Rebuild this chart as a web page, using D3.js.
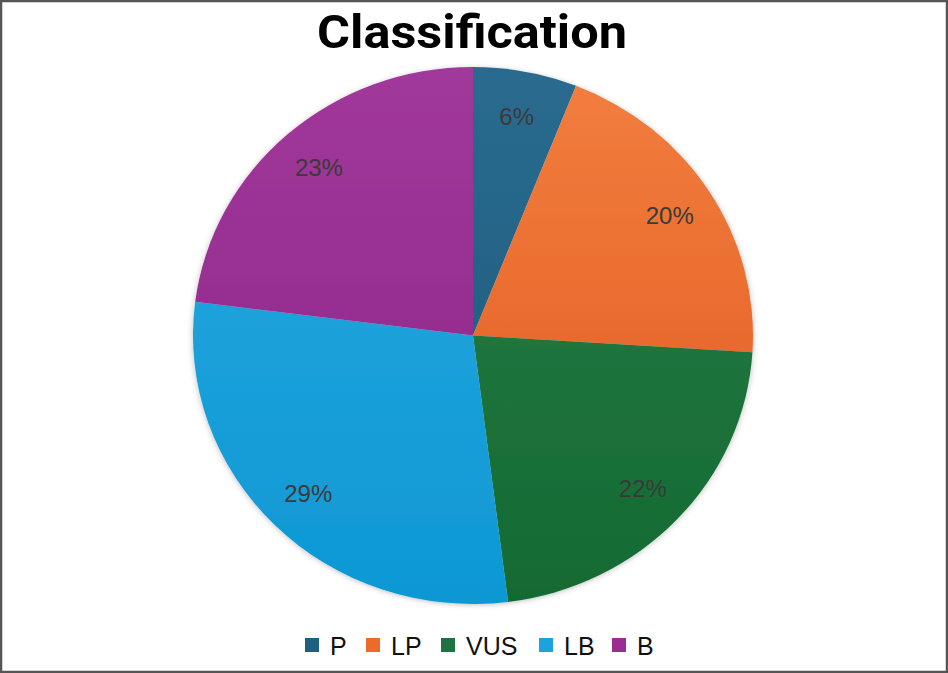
<!DOCTYPE html>
<html><head><meta charset="utf-8">
<script src="https://cdn.jsdelivr.net/npm/d3@7"></script>
<style>body{margin:0;background:#fff}svg{display:block}</style>
</head><body>
<script>
const categories = ["P", "LP", "VUS", "LB", "B"];
const values = [6, 20, 22, 29, 23];
const colorsTop = ["#2a6b90", "#f27e3e", "#2f7e47", "#2aa9e1", "#a1389b"];
const colorsBottom = ["#1b5878", "#e0581f", "#116a32", "#0d98d4", "#8a2385"];
const legendColors = ["#1f5f82", "#ec6b2b", "#1d7440", "#1ca2dc", "#9a2c92"];
const title = "Classification";

const W = 948, H = 673;
const svg = d3.select("body").append("svg").attr("width", W).attr("height", H);
svg.append("rect").attr("x", 1).attr("y", 1).attr("width", W - 2).attr("height", H - 2)
  .attr("fill", "#fff").attr("stroke", "#555").attr("stroke-width", 2.5);

const cx = 473, cy = 335.5, R = 280, ky = 268.5 / 280;
const defs = svg.append("defs");
categories.forEach((c, i) => {
  const g = defs.append("linearGradient").attr("id", "g" + i)
    .attr("gradientUnits", "userSpaceOnUse")
    .attr("x1", 0).attr("y1", -R).attr("x2", 0).attr("y2", R);
  g.append("stop").attr("offset", "0%").attr("stop-color", colorsTop[i]);
  g.append("stop").attr("offset", "100%").attr("stop-color", colorsBottom[i]);
});
const f = defs.append("filter").attr("id", "sh").attr("x", "-10%").attr("y", "-10%").attr("width", "120%").attr("height", "120%");
f.append("feDropShadow").attr("dx", 0).attr("dy", 1).attr("stdDeviation", 3).attr("flood-color", "#000").attr("flood-opacity", 0.25);

svg.append("text").attr("x", 472).attr("y", 48).attr("text-anchor", "middle")
  .attr("font-family", "Roboto, 'Open Sans', sans-serif").attr("font-weight", 700)
  .attr("font-size", 46).attr("fill", "#000")
  .attr("textLength", 310).attr("lengthAdjust", "spacingAndGlyphs").text(title);

const pie = d3.pie().sort(null).value(d => d);
const arcs = pie(values);
const arc = d3.arc().innerRadius(0).outerRadius(R);
const lab = d3.arc().innerRadius(233).outerRadius(233);
const total = d3.sum(values);

const gp = svg.append("g").attr("transform", `translate(${cx},${cy})`);
gp.append("g").attr("filter", "url(#sh)").attr("transform", `scale(1,${ky})`)
  .selectAll("path").data(arcs).join("path")
  .attr("d", arc).attr("fill", (d, i) => `url(#g${i})`);

gp.selectAll("text.lbl").data(arcs).join("text").attr("class", "lbl")
  .attr("transform", d => { const c = lab.centroid(d); return `translate(${c[0]},${c[1] * ky})`; })
  .attr("text-anchor", "middle").attr("dominant-baseline", "central")
  .attr("font-family", "Arial, 'Liberation Sans', sans-serif").attr("font-size", 24)
  .attr("fill", "#3a3a3a")
  .text(d => Math.round(d.value / total * 100) + "%");

const legendX = [305, 366, 441, 539, 612];
const lg = svg.append("g");
categories.forEach((c, i) => {
  lg.append("rect").attr("x", legendX[i]).attr("y", 638).attr("width", 14).attr("height", 14)
    .attr("fill", legendColors[i]);
  lg.append("text").attr("x", legendX[i] + 25).attr("y", 655)
    .attr("font-family", "Arial, 'Liberation Sans', sans-serif").attr("font-size", 25)
    .attr("fill", "#111").text(c);
});
</script>
</body></html>
